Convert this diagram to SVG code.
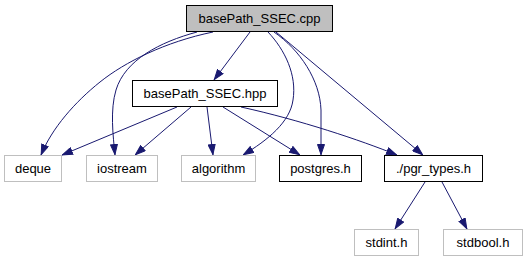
<svg xmlns="http://www.w3.org/2000/svg" width="527" height="261" viewBox="0 0 527 261">
  <style>
    .node rect { stroke-width: 1; }
    .main rect { fill: #bfbfbf; stroke: #000000; }
    .local rect { fill: #ffffff; stroke: #000000; }
    .ext rect { fill: #ffffff; stroke: #bfbfbf; }
    .node text { font-family: "Liberation Sans", Arial, sans-serif; font-size: 13px; fill: #000000; text-anchor: middle; }
    .edge { fill: none; stroke: #191970; stroke-width: 1; marker-end: url(#arrow); }
  </style>
  <defs>
    <marker id="arrow" markerUnits="userSpaceOnUse" viewBox="0 0 11 8" refX="11" refY="4" markerWidth="11" markerHeight="8" orient="auto">
      <path d="M0.5,0.5 L10.5,4 L0.5,7.5 z" fill="#191970" stroke="#191970" stroke-width="1"/>
    </marker>
  </defs>

  <!-- include edges -->
  <g id="edges">
    <path class="edge" d="M250,32 L214,80"/>
    <path class="edge" d="M213,32 C165,42 125,62 100,82 C75,102 52,128 41,155"/>
    <path class="edge" d="M197,32 C160,42 125,60 116,90 C110,110 113,135 115,155"/>
    <path class="edge" d="M268,32 C285,50 297,75 293,100 C290,122 268,140 243,155"/>
    <path class="edge" d="M274,32 C300,50 320,80 321,110 L321,155"/>
    <path class="edge" d="M276,32 L423,155"/>
    <path class="edge" d="M177,107 L62,155"/>
    <path class="edge" d="M191,107 L135,155"/>
    <path class="edge" d="M207,107 L213,155"/>
    <path class="edge" d="M223,107 L300,155"/>
    <path class="edge" d="M241,107 C300,120 360,140 397,155"/>
    <path class="edge" d="M425,182 L395,229"/>
    <path class="edge" d="M442,182 L467,229"/>
  </g>

  <g id="node-cpp" class="node main">
    <rect x="186.5" y="5.5" width="146" height="26"/>
    <text x="259.5" y="23">basePath_SSEC.cpp</text>
  </g>
  <g id="node-hpp" class="node local">
    <rect x="132.5" y="80.5" width="145" height="26"/>
    <text x="205" y="98">basePath_SSEC.hpp</text>
  </g>
  <g id="node-deque" class="node ext">
    <rect x="4.5" y="155.5" width="57" height="26"/>
    <text x="33" y="173">deque</text>
  </g>
  <g id="node-iostream" class="node ext">
    <rect x="86.5" y="155.5" width="71" height="26"/>
    <text x="122" y="173">iostream</text>
  </g>
  <g id="node-algorithm" class="node ext">
    <rect x="181.5" y="155.5" width="74" height="26"/>
    <text x="218.5" y="173">algorithm</text>
  </g>
  <g id="node-postgres" class="node local">
    <rect x="279.5" y="155.5" width="82" height="26"/>
    <text x="320.5" y="173">postgres.h</text>
  </g>
  <g id="node-pgr-types" class="node local">
    <rect x="384.5" y="155.5" width="98" height="26"/>
    <text x="433.5" y="173">./pgr_types.h</text>
  </g>
  <g id="node-stdint" class="node ext">
    <rect x="354.5" y="229.5" width="64" height="26"/>
    <text x="386.5" y="247">stdint.h</text>
  </g>
  <g id="node-stdbool" class="node ext">
    <rect x="443.5" y="229.5" width="79" height="26"/>
    <text x="483" y="247">stdbool.h</text>
  </g>
</svg>
